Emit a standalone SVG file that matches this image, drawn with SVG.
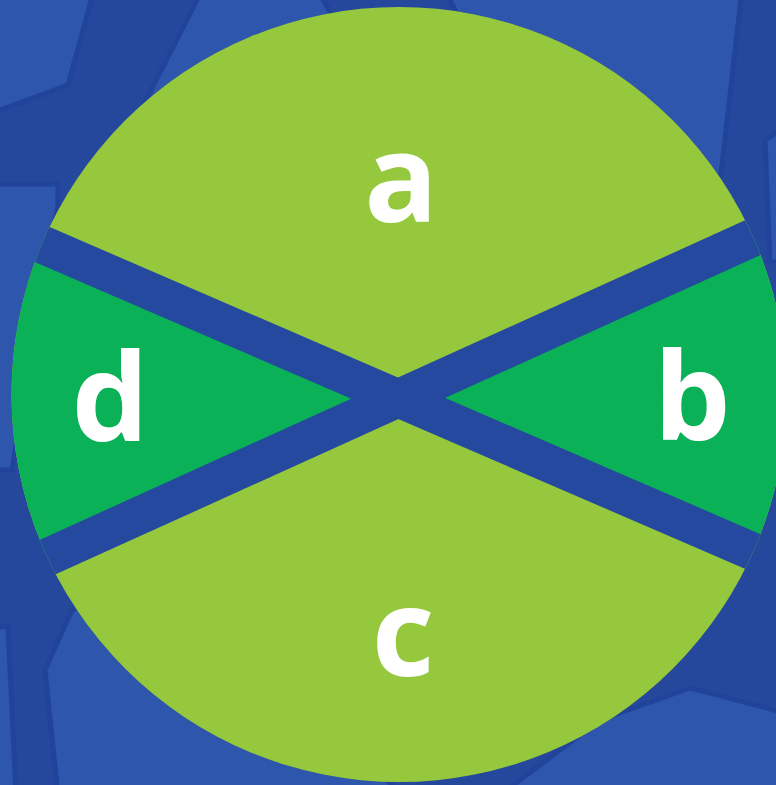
<svg xmlns="http://www.w3.org/2000/svg" width="776" height="785" viewBox="0 0 776 785">
  <style>
    .panel { fill: #2e56ad; stroke: #21449a; stroke-width: 5; stroke-linejoin: round; }
    .lightg { fill: #95c83c; }
    .darkg { fill: #0bb157; }
    .band { stroke: #24499e; stroke-width: 38; fill: none; }
    .lbl { font-family: "Open Sans", "Liberation Sans", sans-serif; font-weight: 700; font-size: 122px; fill: #ffffff; text-anchor: middle; }
  </style>
  <defs>
    <clipPath id="disc">
      <circle cx="399" cy="394.5" r="387.5"/>
    </clipPath>
  </defs>
  <g id="background">
    <rect x="0" y="0" width="776" height="785" fill="#25489d"/>
    <polygon class="panel" points="-10,-10 94,-10 68,85 -10,114"/>
    <polygon class="panel" points="202,-10 318,-10 340,30 220,220 142,108"/>
    <polygon class="panel" points="445,-10 742,-10 722,165 700,300 600,300"/>
    <polygon class="panel" points="790,124 765,140 770,262 790,262"/>
    <polygon class="panel" points="-10,184 58,184 58,205 40,300 12,470 -10,470"/>
    <polygon class="panel" points="-10,628 8,626 16,795 -10,795"/>
    <polygon class="panel" points="72,610 200,560 400,795 58,795 45,670"/>
    <polygon class="panel" points="690,688 790,714 790,795 500,795 600,720"/>
  </g>
  <g id="circle">
    <circle cx="399" cy="394.5" r="387.5" fill="#24499e"/>
    <g clip-path="url(#disc)">
      <g id="sector-a-c">
        <rect class="lightg" x="0" y="0" width="776" height="785"/>
      </g>
      <g id="sector-d">
        <polygon class="darkg" points="399,398.5 0,226.3 0,578.7"/>
      </g>
      <g id="sector-b">
        <polygon class="darkg" points="399,398.5 800,571.9 800,216.3"/>
      </g>
      <g id="bands">
        <line class="band" x1="0" y1="226.3" x2="800" y2="571.9"/>
        <line class="band" x1="0" y1="578.7" x2="800" y2="216.3"/>
      </g>
    </g>
  </g>
  <g id="labels">
    <text id="label-a" class="lbl" x="401" y="222">a</text>
    <text id="label-b" class="lbl" x="692" y="440">b</text>
    <text id="label-c" class="lbl" x="403" y="676">c</text>
    <text id="label-d" class="lbl" x="110" y="441">d</text>
  </g>
</svg>
